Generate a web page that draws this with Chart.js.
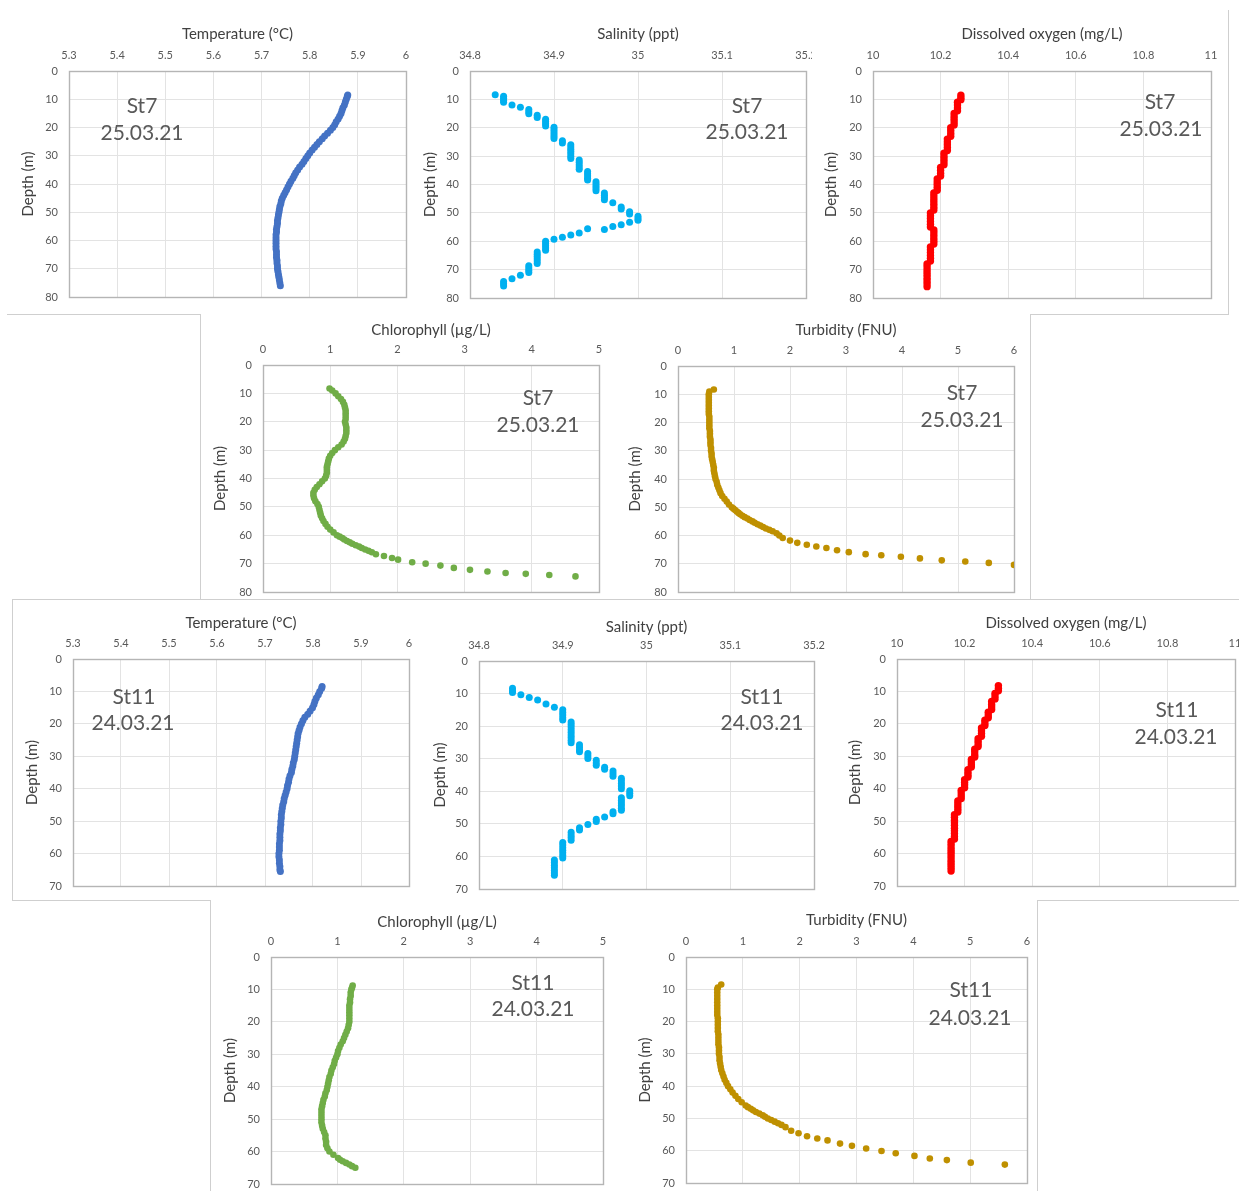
<!DOCTYPE html>
<html>
<head>
<meta charset="utf-8">
<script src="https://cdn.jsdelivr.net/npm/chart.js@4.4.1/dist/chart.umd.min.js"></script>
<style>
html,body{margin:0;padding:0;width:1239px;height:1191px;overflow:hidden;background:#fff;font-family:Lato,"Open Sans",sans-serif;}
.wrap{position:absolute;overflow:hidden;}
.wrap canvas{position:absolute;left:0;top:0;}
.note{position:absolute;color:#595959;font-family:Lato,sans-serif;font-size:21px;line-height:21px;white-space:nowrap;transform:translate(-50%,-50%);}
.fl{position:absolute;background:#cfcfcf;}
</style>
</head>
<body>
<script>
// ---------------- DATA ----------------
// Station 7 (25.03.21)
const t7Depth = [8.5,9,10,11,12,13,14,15,16,17,18,19,20,21,22,23,24,25,26,27,28,29,30,31,32,33,34,35,36,37,38,39,40,41,42,43,44,45,46,47,48,49,50,51,52,53,54,55,56,57,58,59,60,61,62,63,64,65,66,67,68,69,70,71,72,73,74,75,76];
const t7Temp = [5.879,5.878,5.876,5.874,5.872,5.869,5.867,5.865,5.862,5.859,5.855,5.852,5.848,5.843,5.837,5.831,5.826,5.820,5.815,5.810,5.805,5.800,5.796,5.792,5.788,5.784,5.779,5.775,5.771,5.768,5.765,5.761,5.758,5.755,5.752,5.749,5.746,5.743,5.741,5.740,5.738,5.737,5.736,5.735,5.734,5.733,5.733,5.732,5.731,5.731,5.730,5.730,5.730,5.730,5.730,5.730,5.731,5.731,5.731,5.732,5.732,5.733,5.733,5.734,5.735,5.736,5.737,5.738,5.739];

const s7Depth = [8.4,8.9,9.6,10.3,11.0,12.0,12.8,13.6,14.4,15.1,15.6,16.4,17.0,17.8,18.6,19.4,19.8,20.6,21.4,22.2,23.0,23.8,24.6,25.4,26.0,26.8,27.6,28.4,29.2,30.0,30.8,31.4,32.2,33.0,33.8,34.6,35.4,36.2,37.0,37.8,38.4,39.0,39.8,40.6,41.4,42.2,43.0,43.8,44.6,45.4,46.4,47.9,48.6,49.6,50.4,51.2,52.0,52.6,53.3,54.2,54.8,55.9,55.6,57.1,57.8,58.6,59.3,60.0,60.8,61.6,62.4,63.2,63.8,64.6,65.4,66.2,67.0,67.8,68.6,69.4,70.2,71.0,72.0,73.2,74.2,75.0,75.8];
const s7Sal = [34.83,34.84,34.84,34.84,34.84,34.85,34.86,34.87,34.87,34.87,34.88,34.88,34.89,34.89,34.89,34.89,34.90,34.90,34.90,34.90,34.90,34.90,34.91,34.91,34.92,34.92,34.92,34.92,34.92,34.92,34.92,34.93,34.93,34.93,34.93,34.93,34.94,34.94,34.94,34.94,34.94,34.95,34.95,34.95,34.95,34.95,34.96,34.96,34.96,34.96,34.97,34.98,34.98,34.99,34.99,35.00,35.00,35.00,34.99,34.98,34.97,34.96,34.94,34.93,34.92,34.91,34.90,34.89,34.89,34.89,34.89,34.89,34.88,34.88,34.88,34.88,34.88,34.88,34.87,34.87,34.87,34.87,34.86,34.85,34.84,34.84,34.84];

const o7Depth = [8.5,9.3,10.1,11,12,13,14,15,16,17,18,19,20,21,22,23,24,25,26,27,28,29,30,31,32,33,34,35,36,37,38,39,40,41,42,43,44,45,46,47,48,49,50,51,52,53,54,55,56,57,58,59,60,61,62,63,64,65,66,67,68,69,70,71,72,73,74,75,76];
const o7DO = [10.26,10.26,10.26,10.25,10.25,10.25,10.25,10.24,10.24,10.24,10.24,10.24,10.23,10.23,10.23,10.23,10.22,10.22,10.22,10.22,10.22,10.21,10.21,10.21,10.21,10.21,10.20,10.20,10.20,10.20,10.19,10.19,10.19,10.19,10.19,10.18,10.18,10.18,10.18,10.18,10.18,10.18,10.17,10.17,10.17,10.17,10.17,10.17,10.18,10.18,10.18,10.18,10.18,10.18,10.17,10.17,10.17,10.17,10.17,10.17,10.16,10.16,10.16,10.16,10.16,10.16,10.16,10.16,10.16];

const c7Depth = [8.3,9,10,11,12,13,14,15,16,17,18,19,20,21,22,23,24,25,26,27,28,29,30,31,32,33,34,35,36,37,38,39,40,41,42,43,44,45,46,47,48,49,50,51,52,53,54,55,56,57,58,59,60,60.5,61,61.5,62,62.5,63,63.5,64,64.5,65,65.5,66,66.7,67.3,68.0,68.6,69.5,70.0,70.7,71.5,72.2,72.8,73.3,73.6,74.0,74.5];
const c7Chl = [0.99,1.03,1.08,1.12,1.16,1.19,1.21,1.22,1.23,1.23,1.23,1.23,1.22,1.23,1.24,1.24,1.24,1.23,1.22,1.20,1.17,1.12,1.07,1.03,1.00,0.98,0.97,0.96,0.95,0.95,0.95,0.94,0.92,0.88,0.84,0.80,0.77,0.75,0.75,0.76,0.78,0.81,0.83,0.84,0.85,0.86,0.88,0.90,0.93,0.96,1.00,1.05,1.10,1.14,1.18,1.21,1.25,1.29,1.33,1.38,1.43,1.47,1.52,1.57,1.62,1.68,1.80,1.92,2.01,2.22,2.42,2.64,2.84,3.08,3.34,3.61,3.91,4.26,4.65];

const u7Depth = [8.3,9,10,11,12,13,14,15,16,17,18,19,20,21,22,23,24,25,26,27,28,29,30,31,32,33,34,35,36,37,38,39,40,41,42,43,44,45,46,47,48,49,50,50.5,51,51.5,52,52.5,53,53.5,54,54.5,55,55.5,56,56.5,57,57.5,58,58.5,59.2,60.0,60.9,61.8,62.6,63.3,63.9,64.4,65.2,65.9,66.6,67.0,67.5,68.1,68.8,69.2,69.7,70.4];
const u7Turb = [0.64,0.56,0.55,0.55,0.55,0.55,0.55,0.55,0.55,0.55,0.56,0.56,0.56,0.56,0.56,0.57,0.57,0.57,0.58,0.58,0.58,0.59,0.59,0.60,0.60,0.61,0.62,0.63,0.64,0.64,0.65,0.66,0.67,0.69,0.70,0.72,0.74,0.76,0.79,0.83,0.87,0.91,0.96,0.99,1.02,1.05,1.08,1.11,1.15,1.19,1.24,1.28,1.33,1.37,1.42,1.47,1.52,1.57,1.63,1.69,1.76,1.81,1.87,2.00,2.13,2.30,2.47,2.65,2.84,3.05,3.35,3.63,3.98,4.32,4.71,5.13,5.55,6.00];

// Station 11 (24.03.21)
const t11Depth = [8.5,9,10,11,12,13,14,15,16,17,18,19,20,21,22,23,24,25,26,27,28,29,30,31,32,33,34,35,36,37,38,39,40,41,42,43,44,45,46,47,48,49,50,51,52,53,54,55,56,57,58,59,60,61,62,63,64,65,65.5];
const t11Temp = [5.819,5.818,5.814,5.811,5.807,5.804,5.802,5.799,5.794,5.789,5.783,5.779,5.776,5.773,5.771,5.769,5.768,5.767,5.766,5.765,5.764,5.763,5.762,5.761,5.759,5.758,5.756,5.755,5.752,5.750,5.749,5.747,5.746,5.744,5.742,5.740,5.739,5.737,5.736,5.735,5.734,5.734,5.733,5.733,5.732,5.732,5.731,5.731,5.731,5.730,5.730,5.730,5.729,5.729,5.730,5.730,5.731,5.731,5.732];

const s11Depth = [8.4,9.1,9.7,10.4,11.2,12.0,13.2,14.2,15.0,15.8,16.6,17.4,18.1,18.7,19.5,20.3,21.1,21.9,22.7,23.5,24.3,25.1,25.7,26.5,27.3,27.9,28.4,29.2,29.9,30.5,31.3,32.0,32.6,33.2,33.8,34.6,35.4,36.0,36.8,37.6,38.4,39.2,39.8,40.6,41.4,42.0,42.8,43.6,44.4,45.2,45.8,46.3,46.9,47.9,48.6,49.3,50.2,51.2,51.9,52.6,53.4,54.2,55.0,55.7,56.5,57.3,58.1,58.9,59.7,60.5,61.1,61.9,62.7,63.5,64.3,65.1,65.8];
const s11Sal = [34.84,34.84,34.84,34.85,34.86,34.87,34.88,34.89,34.90,34.90,34.90,34.90,34.90,34.91,34.91,34.91,34.91,34.91,34.91,34.91,34.91,34.91,34.92,34.92,34.92,34.92,34.93,34.93,34.93,34.94,34.94,34.94,34.95,34.95,34.96,34.96,34.96,34.97,34.97,34.97,34.97,34.97,34.98,34.98,34.98,34.97,34.97,34.97,34.97,34.97,34.97,34.96,34.96,34.95,34.94,34.94,34.93,34.92,34.92,34.91,34.91,34.91,34.91,34.90,34.90,34.90,34.90,34.90,34.90,34.90,34.89,34.89,34.89,34.89,34.89,34.89,34.89];

const o11Depth = [8.2,9.0,9.8,10.6,11.4,12.3,13.1,14.0,14.8,15.6,16.4,17.3,18.1,18.9,19.7,20.5,21.3,22.1,23.0,23.8,24.6,25.4,26.2,27.0,27.8,28.6,29.5,30.2,31.0,31.8,32.6,33.3,34.1,34.9,35.7,36.4,37.2,38.0,38.8,39.7,40.5,41.3,42.2,43.0,43.8,44.6,45.5,46.3,47.2,48.0,48.8,49.7,50.5,51.3,52.2,53.0,53.8,54.7,55.5,56.3,57.1,58.0,58.8,59.6,60.4,61.2,62.1,62.9,63.7,64.5,65.4];
const o11DO = [10.30,10.30,10.30,10.29,10.29,10.29,10.28,10.28,10.28,10.28,10.27,10.27,10.27,10.26,10.26,10.26,10.25,10.25,10.25,10.25,10.24,10.24,10.24,10.24,10.23,10.23,10.23,10.23,10.22,10.22,10.22,10.22,10.21,10.21,10.21,10.21,10.20,10.20,10.20,10.20,10.19,10.19,10.19,10.19,10.18,10.18,10.18,10.18,10.18,10.17,10.17,10.17,10.17,10.17,10.17,10.17,10.17,10.17,10.17,10.16,10.16,10.16,10.16,10.16,10.16,10.16,10.16,10.16,10.16,10.16,10.16];

const c11Depth = [8.8,9.5,10,11,12,13,14,15,16,17,18,19,20,21,22,23,24,25,26,27,28,29,30,31,32,33,34,35,36,37,38,39,40,41,42,43,44,45,46,47,48,49,50,51,52,53,54,55,56,57,58,59,60,61,62,62.5,63,63.5,64,64.5,65];
const c11Chl = [1.23,1.22,1.21,1.20,1.20,1.19,1.19,1.18,1.18,1.18,1.18,1.18,1.18,1.17,1.16,1.14,1.12,1.10,1.08,1.05,1.03,1.01,1.00,0.98,0.96,0.95,0.93,0.91,0.90,0.88,0.87,0.86,0.85,0.84,0.82,0.81,0.79,0.78,0.77,0.76,0.76,0.76,0.76,0.76,0.77,0.78,0.80,0.82,0.82,0.83,0.83,0.85,0.88,0.94,1.01,1.04,1.08,1.13,1.18,1.22,1.27];

const u11Depth = [8.5,9.5,10,11,12,13,14,15,16,17,18,19,20,21,22,23,24,25,26,27,28,29,30,31,32,33,34,35,36,37,38,39,40,41,42,43,44,45,46,46.5,47,47.5,48,48.5,49,49.5,50,50.5,51,51.5,52,52.7,53.8,54.6,55.5,56.2,56.8,57.8,58.5,59.3,60.1,60.8,61.6,62.4,62.9,63.7,64.3];
const u11Turb = [0.62,0.56,0.55,0.55,0.55,0.55,0.55,0.55,0.55,0.55,0.55,0.56,0.56,0.56,0.56,0.56,0.57,0.57,0.57,0.57,0.58,0.58,0.58,0.59,0.59,0.60,0.61,0.62,0.64,0.66,0.68,0.71,0.74,0.78,0.82,0.87,0.92,0.98,1.05,1.09,1.14,1.18,1.23,1.29,1.35,1.39,1.44,1.50,1.56,1.62,1.68,1.75,1.85,1.98,2.13,2.31,2.49,2.71,2.92,3.17,3.44,3.69,4.02,4.29,4.59,5.01,5.61];

// Axis definitions (titles and ranges)
const axisTitles = ['Temperature (°C)','Salinity (ppt)','Dissolved oxygen (mg/L)','Chlorophyll (µg/L)','Turbidity (FNU)'];
const xRanges = [[5.3,6,0.1],[34.8,35.2,0.1],[10,11,0.2],[0,5,1],[0,6,1]];
const depthTitle = 'Depth (m)';
const stations = [['St7','25.03.21'],['St11','24.03.21']];

// ---------------- LAYOUT / STYLE ----------------
const colors = ['#4472C4','#00B0F0','#FF0000','#70AD47','#BF9000'];
const radii  = [3.5,3.5,3.7,3.3,3.3];

const panels = [
  {v:0, st:0, x:t7Temp,  y:t7Depth,  ymax:80, plot:[69,71,406,297],   W:50, H:46, notes:[[142,104],[142,131]]},
  {v:1, st:0, x:s7Sal,   y:s7Depth,  ymax:80, plot:[470,71,806,298],  W:49, H:46, clipR:812, notes:[[747,104],[747,130]]},
  {v:2, st:0, x:o7DO,    y:o7Depth,  ymax:80, plot:[873,71,1211,298], W:51, H:46, notes:[[1160,100],[1161,127]]},
  {v:3, st:0, x:c7Chl,   y:c7Depth,  ymax:80, plot:[263,365,599,592], W:52, H:44, notes:[[538,396],[538,423]]},
  {v:4, st:0, x:u7Turb,  y:u7Depth,  ymax:80, plot:[678,366,1014,592],W:52, H:45, notes:[[962,391],[962,418]]},
  {v:0, st:1, x:t11Temp, y:t11Depth, ymax:70, plot:[73,659,409,886],  W:50, H:45, notes:[[134,695],[133,721]]},
  {v:1, st:1, x:s11Sal,  y:s11Depth, ymax:70, plot:[479,661,814,889], W:48, H:43, notes:[[762,695],[762,721]]},
  {v:2, st:1, x:o11DO,   y:o11Depth, ymax:70, plot:[897,659,1235,886],W:51, H:45, notes:[[1177,708],[1176,735]]},
  {v:3, st:1, x:c11Chl,  y:c11Depth, ymax:70, plot:[271,957,603,1184],W:50, H:44, notes:[[533,981],[533,1007]]},
  {v:4, st:1, x:u11Turb, y:u11Depth, ymax:70, plot:[686,957,1027,1183],W:50,H:46, notes:[[971,988],[970,1016]]}
];

const PADR = 26, PADB = 22;
const fmt = v => String(Math.round(v*100)/100);

const frame = {
  id:'frame',
  beforeDatasetsDraw(c){
    const a=c.chartArea, ctx=c.ctx;
    ctx.save();
    ctx.strokeStyle='#b5b5b5'; ctx.lineWidth=1.4;
    ctx.strokeRect(Math.round(a.left)+0.5, Math.round(a.top)+0.5, Math.round(a.right-a.left), Math.round(a.bottom-a.top));
    ctx.restore();
  }
};

function addLine(x,y,w,h){
  const d=document.createElement('div'); d.className='fl';
  d.style.left=x+'px'; d.style.top=y+'px'; d.style.width=w+'px'; d.style.height=h+'px';
  document.body.appendChild(d);
}
// picture borders of the pasted panels
addLine(1228,10,1,304);
addLine(7,314,193,1); addLine(1030,314,199,1);
addLine(200,314,1,285); addLine(1030,314,1,285);
addLine(12,599,1227,1);
addLine(12,599,1,301);
addLine(12,900,198,1); addLine(1037,900,202,1);
addLine(210,900,1,291); addLine(1037,900,1,291);

panels.forEach(p=>{
  const [L,T,R,B]=p.plot;
  const w = p.W + (R-L) + PADR, h = p.H + (B-T) + PADB;
  const wrap=document.createElement('div'); wrap.className='wrap';
  const left=L-p.W, top=T-p.H;
  wrap.style.left=left+'px'; wrap.style.top=top+'px';
  wrap.style.width=((p.clipR? p.clipR-left : w))+'px'; wrap.style.height=h+'px';
  const cv=document.createElement('canvas'); cv.width=w; cv.height=h;
  cv.style.width=w+'px'; cv.style.height=h+'px';
  wrap.appendChild(cv); document.body.appendChild(wrap);

  const n=Math.min(p.x.length,p.y.length);
  const pts=[]; for(let i=0;i<n;i++) pts.push({x:p.x[i], y:p.y[i]});
  const [xmin,xmax,step]=xRanges[p.v];
  const tickFont={family:'Lato', size:11};
  const titleFont={family:'Lato', size:15};
  new Chart(cv,{
    type:'scatter',
    data:{datasets:[{data:pts, backgroundColor:colors[p.v], borderWidth:0, pointRadius:radii[p.v], pointHoverRadius:radii[p.v]}]},
    options:{
      responsive:false, animation:false, events:[], devicePixelRatio:1,
      layout:{padding:{left:0,top:0,right:PADR,bottom:PADB}},
      plugins:{legend:{display:false}, tooltip:{enabled:false}},
      scales:{
        x:{type:'linear', position:'top', min:xmin, max:xmax,
           ticks:{stepSize:step, padding:9, color:'#595959', font:tickFont, callback:fmt, maxRotation:0, autoSkip:false},
           grid:{color:'#e3e3e3', drawTicks:false, lineWidth:1},
           border:{display:false},
           title:{display:true, text:axisTitles[p.v], color:'#404040', font:titleFont, padding:0},
           afterFit:s=>{s.height=p.H;}},
        y:{type:'linear', position:'left', reverse:true, min:0, max:p.ymax,
           ticks:{stepSize:10, padding:11, color:'#595959', font:tickFont, callback:fmt, autoSkip:false},
           grid:{color:'#e3e3e3', drawTicks:false, lineWidth:1},
           border:{display:false},
           title:{display:true, text:depthTitle, color:'#404040', font:titleFont, padding:0},
           afterFit:s=>{s.width=p.W;}}
      }
    },
    plugins:[frame]
  });

  stations[p.st].forEach((txt,i)=>{
    const d=document.createElement('div'); d.className='note'; d.textContent=txt;
    d.style.left=p.notes[i][0]+'px'; d.style.top=p.notes[i][1]+'px';
    document.body.appendChild(d);
  });
});
</script>
</body>
</html>
